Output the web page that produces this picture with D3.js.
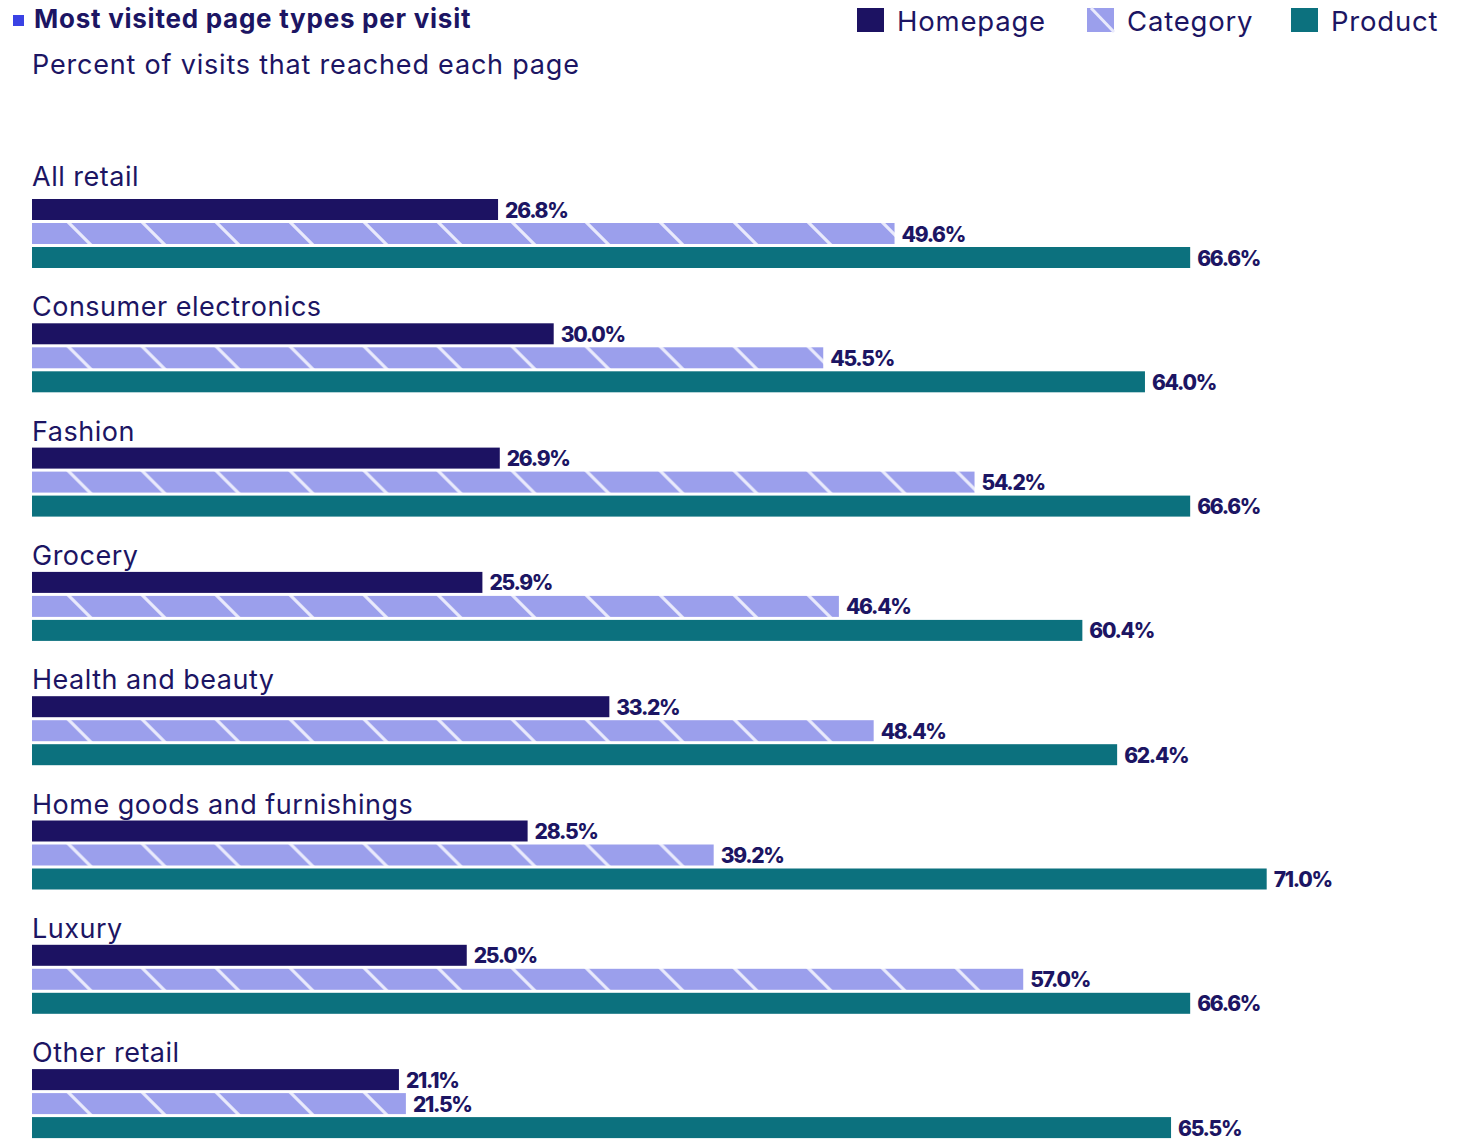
<!DOCTYPE html>
<html>
<head>
<meta charset="utf-8">
<script src="https://cdn.jsdelivr.net/npm/d3@7"></script>
<style>
  html, body { margin: 0; padding: 0; background: #ffffff; }
  svg { display: block; }
  text { font-family: Inter, "Noto Sans", sans-serif; fill: #1c1563; }
</style>
</head>
<body>
<svg id="chart" width="1468" height="1139"></svg>
<script>
// Page-type reach by retail vertical (percent of visits)
const categories = [
  "All retail",
  "Consumer electronics",
  "Fashion",
  "Grocery",
  "Health and beauty",
  "Home goods and furnishings",
  "Luxury",
  "Other retail"
];
const seriesNames = ["Homepage", "Category", "Product"];
const homepage = [26.8, 30.0, 26.9, 25.9, 33.2, 28.5, 25.0, 21.1];
const category = [49.6, 45.5, 54.2, 46.4, 48.4, 39.2, 57.0, 21.5];
const product  = [66.6, 64.0, 66.6, 60.4, 62.4, 71.0, 66.6, 65.5];

const titleText = "Most visited page types per visit";
const subtitleText = "Percent of visits that reached each page";

const seriesValues = [homepage, category, product];
const colors = { Homepage: "#1c1262", Category: "#9b9fec", Product: "#0c717e" };
const stripeColor = "#e9eafc";

const svg = d3.select("#chart");
const defs = svg.append("defs");

// diagonal "\" hatch for the Category series
const pat = defs.append("pattern")
  .attr("id", "hatch")
  .attr("patternUnits", "userSpaceOnUse")
  .attr("x", 45).attr("y", 0)
  .attr("width", 74).attr("height", 74);
pat.append("rect").attr("width", 74).attr("height", 74).attr("fill", colors.Category);
pat.selectAll("line")
  .data([-74, 0, 74])
  .join("line")
  .attr("x1", d => d).attr("y1", 0)
  .attr("x2", d => d + 74).attr("y2", 74)
  .attr("stroke", stripeColor).attr("stroke-width", 3.2);

const fillFor = name => name === "Category" ? "url(#hatch)" : colors[name];

// scales
const x = d3.scaleLinear().domain([0, 80]).range([32, 32 + 80 * 17.39]);
const yGroup = d3.scaleBand().domain(categories)
  .range([199, 199 + 124.3 * categories.length]).paddingInner(0).paddingOuter(0);
const ySeries = d3.scaleBand().domain(seriesNames)
  .range([0, 69]).paddingInner(3 / 24).paddingOuter(0);
const barH = ySeries.bandwidth();

// title block
svg.append("rect").attr("x", 13).attr("y", 15).attr("width", 11).attr("height", 11).attr("fill", "#3a42e4");
svg.append("text").attr("x", 34).attr("y", 28)
  .attr("font-size", 26).attr("font-weight", 700)
  .attr("letter-spacing", 0.75)
  .text(titleText);
svg.append("text").attr("x", 32).attr("y", 74)
  .attr("font-size", 27)
  .attr("letter-spacing", 0.8)
  .text(subtitleText);

// legend
const legendX = [857, 1087, 1291];
const legend = svg.append("g").selectAll("g")
  .data(seriesNames)
  .join("g")
  .attr("transform", (d, i) => `translate(${legendX[i]},0)`);
legend.append("rect").attr("x", 0).attr("y", 8).attr("width", 27).attr("height", 24)
  .attr("fill", d => d === "Category" ? colors.Category : colors[d]);
legend.filter(d => d === "Category").append("line")
  .attr("x1", 4).attr("y1", 8).attr("x2", 27).attr("y2", 32)
  .attr("stroke", stripeColor).attr("stroke-width", 3);
legend.append("text").attr("x", 40).attr("y", 31)
  .attr("font-size", 27.5)
  .attr("letter-spacing", 0.8)
  .text(d => d);

// groups
const groups = svg.append("g").selectAll("g")
  .data(categories)
  .join("g")
  .attr("transform", d => `translate(0,${yGroup(d)})`);

groups.append("text")
  .attr("x", 32).attr("y", (d, i) => i === 0 ? -13 : -7)
  .attr("font-size", 27)
  .attr("letter-spacing", 0.5)
  .text(d => d);

const bars = groups.selectAll("g.bar")
  .data((d, i) => seriesNames.map((s, j) => ({ series: s, value: seriesValues[j][i] })))
  .join("g").attr("class", "bar");

bars.append("rect")
  .attr("x", x(0))
  .attr("y", d => ySeries(d.series))
  .attr("width", d => x(d.value) - x(0))
  .attr("height", barH)
  .attr("fill", d => fillFor(d.series));

bars.append("text")
  .attr("x", d => x(d.value) + 7)
  .attr("y", d => ySeries(d.series) + barH / 2 + 0.5)
  .attr("dominant-baseline", "central")
  .attr("font-size", 21).attr("font-weight", 800)
  .attr("letter-spacing", -1.3)
  .text(d => d3.format(".1f")(d.value) + "%");
</script>
</body>
</html>
